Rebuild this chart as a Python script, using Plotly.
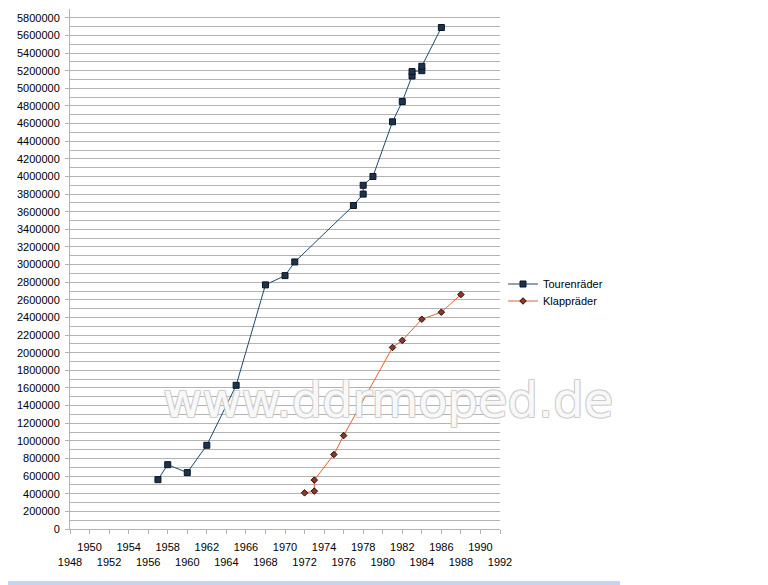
import plotly.graph_objects as go

# Data
tour_years = [1957, 1958, 1960, 1962, 1965, 1968, 1970, 1971, 1977, 1978, 1978, 1979,
              1981, 1982, 1983, 1983, 1984, 1984, 1986]
tour_values = [560000, 730000, 640000, 950000, 1630000, 2770000, 2875000, 3030000,
               3670000, 3800000, 3900000, 4000000, 4620000, 4850000, 5140000, 5190000,
               5200000, 5250000, 5690000]

klapp_years = [1972, 1973, 1973, 1975, 1976, 1981, 1982, 1984, 1986, 1988]
klapp_values = [410000, 430000, 555000, 845000, 1060000, 2060000, 2140000, 2380000,
                2460000, 2660000]

x_ticks = list(range(1948, 1993, 2))
x_ticktext = [("<br>%d" % y) if (y - 1948) % 4 == 0 else ("%d<br> " % y) for y in x_ticks]

# The page body has an 8px margin; work in screen pixels and shift.
OFF = 8
W, H = 768 - OFF, 585 - OFF
L, T = 70 - OFF, 9 - OFF
PR, PB = 500 - OFF, 529 - OFF  # plot right / bottom in figure pixels
R, B = W - PR, H - PB
pw, ph = PR - L, PB - T

def px_x(p):  # p in screen pixels
    return (p - OFF - L) / pw

def px_y(p):
    return (PB - (p - OFF)) / ph

fig = go.Figure()
fig.add_trace(go.Scatter(
    x=tour_years, y=tour_values, name="Tourenräder", mode="lines+markers",
    line=dict(color="#1e4a6e", width=1), legend="legend",
    marker=dict(symbol="square", size=6, color="#1c3350", line=dict(color="#0a1420", width=1)),
))
fig.add_trace(go.Scatter(
    x=klapp_years, y=klapp_values, name="Klappräder", mode="lines+markers",
    line=dict(color="#e8602c", width=1), legend="legend2",
    marker=dict(symbol="diamond", size=5, color="#8b3a2a", line=dict(color="#2a0a05", width=1)),
))

fig.add_annotation(
    text="www.ddrmoped.de", xref="paper", yref="paper",
    x=px_x(388), y=px_y(400), xanchor="center", yanchor="middle", showarrow=False,
    font=dict(family="DejaVu Sans", size=48, color="rgba(255,255,255,0.9)",
              shadow="-1px -1px 0 #cccccc, 1px -1px 0 #cccccc, -1px 1px 0 #cccccc, 1px 1px 0 #cccccc"),
)

fig.add_shape(type="rect", xref="paper", yref="paper",
              x0=px_x(0), x1=px_x(620), y0=px_y(586), y1=px_y(581),
              fillcolor="#c6d2f6", line=dict(width=0), layer="above")

leg_common = dict(xanchor="left", yanchor="middle", bgcolor="rgba(0,0,0,0)",
                  font=dict(size=11, color="black"), itemwidth=30)

fig.update_layout(
    width=W, height=H,
    margin=dict(l=L, r=R, t=T, b=B, pad=0),
    paper_bgcolor="white", plot_bgcolor="white",
    font=dict(family="Liberation Sans", size=11, color="black"),
    showlegend=True,
    legend=dict(x=px_x(503), y=px_y(284), **leg_common),
    legend2=dict(x=px_x(503), y=px_y(301), **leg_common),
    xaxis=dict(range=[1948, 1992], tickvals=x_ticks, ticktext=x_ticktext,
               showgrid=False, zeroline=False, showline=True, linecolor="#b3b3b3",
               ticks="outside", ticklen=4, tickcolor="#b3b3b3", tickangle=0,
               ticklabelstandoff=4),
    yaxis=dict(range=[0, 5900000], dtick=200000, tick0=0, tickformat="d",
               showgrid=True, gridcolor="#b3b3b3", gridwidth=1,
               minor=dict(dtick=100000, showgrid=True, gridcolor="#b3b3b3"),
               zeroline=False, showline=True, linecolor="#b3b3b3",
               ticks="outside", ticklen=4, tickcolor="#b3b3b3", ticklabelstandoff=3),
)

fig.write_html("out.html")
